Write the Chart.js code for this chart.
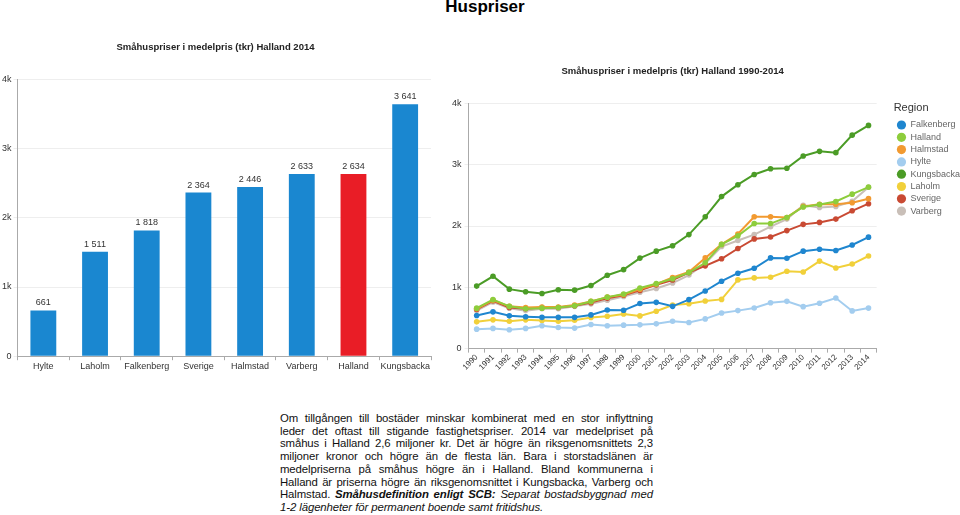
<!DOCTYPE html>
<html>
<head>
<meta charset="utf-8">
<script src="https://cdn.jsdelivr.net/npm/chart.js@4.4.1/dist/chart.umd.min.js"></script>
<style>
body { margin: 0; width: 960px; height: 515px; overflow: hidden; background: #fff; position: relative;
       font-family: "Liberation Sans", Arial, sans-serif; }
#pageTitle { position: absolute; left: 0; width: 970px; top: -3px; text-align: center; font-weight: bold; font-size: 17px; color: #000; }
#barBox { position: absolute; left: 0; top: 30px; width: 440px; height: 343px; }
#lineBox { position: absolute; left: 440px; top: 58px; width: 520px; height: 314px; }
#text { position: absolute; left: 280px; top: 412px; width: 373px; font-size: 11.4px; letter-spacing: -0.12px; line-height: 12.7px; color: #111; }
#text div { white-space: nowrap; display: flex; justify-content: space-between; }
#text div.last { justify-content: flex-start; }
#text div.last span { margin-right: 3.2px; }
</style>
</head>
<body>
<div id="pageTitle">Huspriser</div>
<div id="barBox"><canvas id="barChart"></canvas></div>
<div id="lineBox"><canvas id="lineChart"></canvas></div>
<div id="text"></div>
<script>
/* ================= DATA ================= */
var barCategories = ["Hylte", "Laholm", "Falkenberg", "Sverige", "Halmstad", "Varberg", "Halland", "Kungsbacka"];
var barValues = [661, 1511, 1818, 2364, 2446, 2633, 2634, 3641];
var highlightCategory = "Halland";

var years = ["1990", "1991", "1992", "1993", "1994", "1995", "1996", "1997", "1998", "1999", "2000", "2001", "2002",
    "2003", "2004", "2005", "2006", "2007", "2008", "2009", "2010", "2011", "2012", "2013", "2014"];
var falkenberg = [540, 600, 535, 520, 510, 510, 510, 550, 630, 625, 735, 755, 690, 800, 940, 1100, 1230, 1310, 1480, 1475, 1590, 1620, 1600, 1690, 1818];
var halland = [660, 800, 690, 650, 660, 670, 700, 770, 840, 890, 990, 1060, 1140, 1240, 1400, 1700, 1840, 2040, 2040, 2140, 2310, 2350, 2400, 2520, 2634];
var halmstad = [650, 790, 690, 670, 680, 680, 710, 770, 840, 880, 970, 1050, 1160, 1250, 1480, 1700, 1870, 2150, 2150, 2140, 2320, 2355, 2355, 2380, 2446];
var hylte = [318, 330, 308, 330, 372, 345, 335, 394, 372, 383, 388, 404, 447, 426, 485, 580, 620, 663, 749, 771, 685, 739, 825, 615, 661];
var kungsbacka = [1020, 1180, 970, 927, 900, 960, 954, 1030, 1197, 1288, 1477, 1590, 1677, 1860, 2150, 2480, 2674, 2841, 2933, 2943, 3143, 3218, 3197, 3482, 3641];
var laholm = [437, 469, 447, 469, 458, 447, 463, 507, 528, 566, 534, 609, 712, 733, 776, 803, 1121, 1154, 1164, 1261, 1251, 1428, 1315, 1380, 1511];
var sverige = [640, 780, 670, 650, 670, 670, 700, 750, 820, 870, 950, 1040, 1120, 1240, 1350, 1466, 1633, 1790, 1822, 1925, 2027, 2059, 2113, 2248, 2364];
var varberg = [620, 760, 660, 620, 650, 650, 690, 730, 790, 850, 920, 980, 1070, 1200, 1390, 1666, 1763, 1860, 1989, 2113, 2339, 2302, 2318, 2404, 2633];

var seriesNames = ["Falkenberg", "Halland", "Halmstad", "Hylte", "Kungsbacka", "Laholm", "Sverige", "Varberg"];
var seriesValues = [falkenberg, halland, halmstad, hylte, kungsbacka, laholm, sverige, varberg];
var seriesColors = ["#1f86cf", "#8dcd3c", "#f29a30", "#a3cdef", "#4b9c26", "#f1d03a", "#c94a33", "#c9bfb8"];

var yTickLabels = ["0", "1k", "2k", "3k", "4k"];

// paragraph, one entry per printed line; *..* = bold italic, _.._ = italic
var textLines = [
    "Om tillgången till bostäder minskar kombinerat med en stor inflyttning",
    "leder det oftast till stigande fastighetspriser. 2014 var medelpriset på",
    "småhus i Halland 2,6 miljoner kr. Det är högre än riksgenomsnittets 2,3",
    "miljoner kronor och högre än de flesta län. Bara i storstadslänen är",
    "medelpriserna på småhus högre än i Halland. Bland kommunerna i",
    "Halland är priserna högre än riksgenomsnittet i Kungsbacka, Varberg och",
    "Halmstad. *Småhusdefinition* *enligt* *SCB:* _Separat_ _bostadsbyggnad_ _med_",
    "_1-2_ _lägenheter_ _för_ _permanent_ _boende_ _samt_ _fritidshus._"
];

/* ================= TEXT ================= */
function buildText() {
    var box = document.getElementById("text");
    textLines.forEach(function (line, i) {
        var row = document.createElement("div");
        if (i === textLines.length - 1) row.className = "last";
        line.split(" ").forEach(function (w) {
            var s = document.createElement("span");
            if (w.charAt(0) === "*") {
                s.innerHTML = "<b><i></i></b>";
                s.firstChild.firstChild.textContent = w.slice(1, -1);
            } else if (w.charAt(0) === "_") {
                s.innerHTML = "<i></i>";
                s.firstChild.textContent = w.slice(1, -1);
            } else {
                s.textContent = w;
            }
            row.appendChild(s);
        });
        box.appendChild(row);
    });
}
buildText();

/* ================= HELPERS ================= */
var FONT = "'Liberation Sans', Arial, sans-serif";
Chart.defaults.font.family = FONT;
Chart.defaults.color = "#333";

function spaced(v) {
    return String(v).replace(/\B(?=(\d{3})+(?!\d))/g, " ");
}
function yTick(value, index) {
    return yTickLabels[index];
}

var barLabels = {
    id: "barLabels",
    afterDatasetsDraw: function (chart) {
        var ctx = chart.ctx;
        var meta = chart.getDatasetMeta(0);
        ctx.save();
        ctx.font = "9px " + FONT;
        ctx.fillStyle = "#333";
        ctx.textAlign = "center";
        ctx.textBaseline = "bottom";
        meta.data.forEach(function (bar, i) {
            ctx.fillText(spaced(barValues[i]), bar.x, bar.y - 3);
        });
        ctx.restore();
    }
};

// pushes the legend a little to the right, away from the plot
var legendShift = {
    id: "legendShift",
    afterLayout: function (chart) {
        chart.legend.left += 17;
        chart.legend.right += 17;
    }
};

/* ================= BAR CHART ================= */
new Chart(document.getElementById("barChart"), {
    type: "bar",
    data: {
        labels: barCategories,
        datasets: [{
            data: barValues,
            backgroundColor: barCategories.map(function (c) { return c === highlightCategory ? "#e91d26" : "#1a87d0"; }),
            barPercentage: 0.5,
            categoryPercentage: 1
        }]
    },
    options: {
        responsive: true,
        maintainAspectRatio: false,
        animation: false,
        layout: { padding: { left: 0, right: 9, top: 0, bottom: 0 } },
        plugins: {
            legend: { display: false },
            tooltip: { enabled: false },
            title: {
                display: true,
                text: "Småhuspriser i medelpris (tkr) Halland 2014",
                font: { size: 9.5, weight: "bold" },
                color: "#222",
                padding: { top: 12, bottom: 26 }
            }
        },
        scales: {
            x: {
                grid: { drawOnChartArea: false, tickLength: 4, color: "#aaa" },
                border: { color: "#aaa" },
                ticks: { font: { size: 9 }, color: "#333", padding: 1, maxRotation: 0, autoSkip: false }
            },
            y: {
                min: 0, max: 4000,
                grid: { color: "#eee", tickLength: 4 },
                border: { color: "#aaa" },
                ticks: { stepSize: 1000, font: { size: 9 }, color: "#333", padding: 2, callback: yTick }
            }
        }
    },
    plugins: [barLabels]
});

/* ================= LINE CHART ================= */
new Chart(document.getElementById("lineChart"), {
    type: "line",
    data: {
        labels: years,
        datasets: seriesNames.map(function (name, i) {
            return {
                label: name,
                data: seriesValues[i],
                borderColor: seriesColors[i],
                backgroundColor: seriesColors[i],
                borderWidth: 2,
                pointRadius: 2.8,
                pointBorderWidth: 0,
                pointStyle: "circle",
                tension: 0
            };
        })
    },
    options: {
        responsive: true,
        maintainAspectRatio: false,
        animation: false,
        layout: { padding: { left: 9, right: 7, top: 0, bottom: 0 } },
        plugins: {
            tooltip: { enabled: false },
            title: {
                display: true,
                fullSize: false,
                text: "Småhuspriser i medelpris (tkr) Halland 1990-2014",
                font: { size: 9.5, weight: "bold" },
                color: "#222",
                padding: { top: 8, bottom: 26 }
            },
            legend: {
                position: "right",
                align: "start",
                title: {
                    display: true,
                    text: "Region",
                    position: "start",
                    color: "#333",
                    font: { size: 11 },
                    padding: { top: 44, bottom: 2 }
                },
                labels: {
                    usePointStyle: true,
                    pointStyle: "circle",
                    boxWidth: 9,
                    boxHeight: 6.5,
                    padding: 3.3,
                    color: "#666",
                    font: { size: 9 }
                }
            }
        },
        scales: {
            x: {
                offset: true,
                grid: { drawOnChartArea: false, offset: true, tickLength: 4, color: "#aaa" },
                border: { color: "#aaa" },
                ticks: { font: { size: 8 }, color: "#333", maxRotation: 45, minRotation: 45, padding: 0, autoSkip: false }
            },
            y: {
                min: 0, max: 4000,
                grid: { color: "#eee", tickLength: 4 },
                border: { color: "#aaa" },
                ticks: { stepSize: 1000, font: { size: 9 }, color: "#333", padding: 3, callback: yTick }
            }
        }
    },
    plugins: [legendShift]
});
</script>
</body>
</html>
